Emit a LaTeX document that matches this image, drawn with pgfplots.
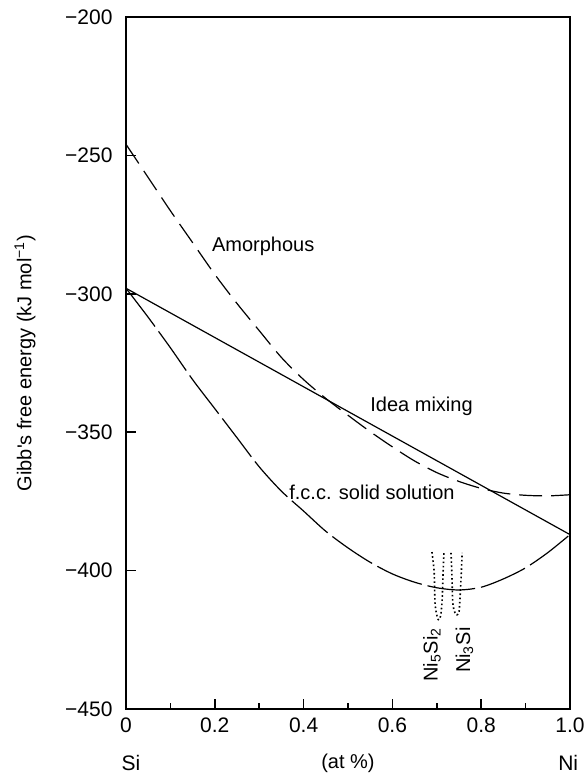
\documentclass[border=0pt]{standalone}
\usepackage{fontspec}
\setmainfont{Liberation Sans}
\usepackage{pgfplots}
\pgfplotsset{compat=1.18}

% Gibbs free energy curves of the Ni--Si system
\pgfplotstableread{
x      G
0.00  -246
0.05  -258
0.10  -270
0.15  -281.5
0.20  -293
0.25  -303.5
0.30  -313.3
0.35  -323
0.40  -331
0.45  -337.8
0.50  -343.9
0.55  -349.8
0.60  -355.3
0.65  -360.4
0.70  -364.6
0.75  -367.8
0.80  -370.3
0.85  -372
0.90  -372.8
0.95  -373
1.00  -372.6
}\amorphous

\pgfplotstableread{
x      G
0.00  -298
0.05  -308.5
0.10  -319.5
0.15  -331
0.20  -341.5
0.25  -352
0.30  -362.5
0.35  -371.3
0.40  -378.5
0.45  -385.8
0.50  -391.8
0.55  -397
0.60  -401.2
0.65  -404.2
0.70  -406.2
0.75  -407
0.80  -406
0.85  -403
0.90  -399
0.95  -393.5
1.00  -387
}\fcc

\pgfplotstableread{
x      G
0.00  -298
1.00  -387
}\ideal

\pgfplotstableread{
x      G
0.689 -393.3
0.694 -400.5
0.696 -411.7
0.701 -416.8
0.705 -417.8
0.709 -416
0.712 -410.6
0.714 -401.6
0.716 -393.6
}\nifivesitwo

\pgfplotstableread{
x      G
0.732 -393.6
0.734 -401.6
0.736 -411.7
0.741 -415.3
0.745 -416
0.750 -415
0.752 -410.6
0.755 -401.6
0.757 -393.6
}\nithreesi

\begin{document}
\begin{tikzpicture}
\begin{axis}[
  width=222pt, height=346pt, scale only axis,
  xmin=0, xmax=1, ymin=-450, ymax=-200,
  clip=false,
  axis line style={line width=1pt},
  tick pos=left, tick align=inside,
  xtick={0,0.2,0.4,0.6,0.8,1},
  xticklabels={0,0.2,0.4,0.6,0.8,1.0},
  minor xtick={0.1,0.3,0.5,0.7,0.9},
  ytick={-450,-400,-350,-300,-250,-200},
  yticklabels={−450,−400,−350,−300,−250,−200},
  major tick length=5pt, minor tick length=3pt,
  every tick/.style={black, line width=0.8pt},
  ticklabel style={font=\fontsize{10.5}{12}\selectfont},
  yticklabel style={xshift=-3.2pt},
  xticklabel style={yshift=-1pt},
  label style={font=\fontsize{10}{12}\selectfont},
  xlabel={(at \%)},
  xlabel style={at={(axis description cs:0.5,-0.078)}, anchor=center, inner sep=0},
  ylabel={Gibb\textquotesingle s free energy (kJ mol\textsuperscript{−1})},
  ylabel style={at={(axis description cs:-0.2275,0.5)}, anchor=center},
]
\addplot[black, line width=0.6pt, dash pattern=on 11.5pt off 4.5pt, smooth] table[x=x, y=G] {\amorphous};
\addplot[black, line width=0.6pt, dash pattern=on 24pt off 3pt, smooth] table[x=x, y=G] {\fcc};
\addplot[black, line width=0.6pt] table[x=x, y=G] {\ideal};
\addplot[black, line width=0.8pt, dash pattern=on 0.8pt off 1.3pt, smooth] table[x=x, y=G] {\nifivesitwo};
\addplot[black, line width=0.8pt, dash pattern=on 0.8pt off 1.3pt, smooth] table[x=x, y=G] {\nithreesi};

\node[anchor=west, inner sep=0, font=\fontsize{10}{12}\selectfont] at (axis cs:0.193,-282.7) {Amorphous};
\node[anchor=west, inner sep=0, font=\fontsize{10}{12}\selectfont] at (axis cs:0.5495,-340.8) {Idea mixing};
\node[anchor=west, inner sep=0, font=\fontsize{10}{12}\selectfont] at (axis cs:0.367,-371.9) {f.c.c. solid solution};
\node[anchor=east, rotate=90, inner sep=0, font=\fontsize{10}{12}\selectfont] at (axis cs:0.689,-420.4) {Ni\textsubscript{5}Si\textsubscript{2}};
\node[anchor=east, rotate=90, inner sep=0, font=\fontsize{10}{12}\selectfont] at (axis cs:0.762,-420.4) {Ni\textsubscript{3}Si};

\node[anchor=center, inner sep=0, font=\fontsize{10.5}{12}\selectfont] at (axis description cs:0.011,-0.078) {Si};
\node[anchor=center, inner sep=0, font=\fontsize{10.5}{12}\selectfont] at (axis description cs:0.996,-0.078) {Ni};

\coordinate (sw) at (rel axis cs:0,0);
\coordinate (ne) at (rel axis cs:1,1);
\end{axis}
\pgfresetboundingbox
\path ([shift={(-63pt,-32.5pt)}]sw) rectangle ([shift={(8pt,8.5pt)}]ne);
\end{tikzpicture}
\end{document}
